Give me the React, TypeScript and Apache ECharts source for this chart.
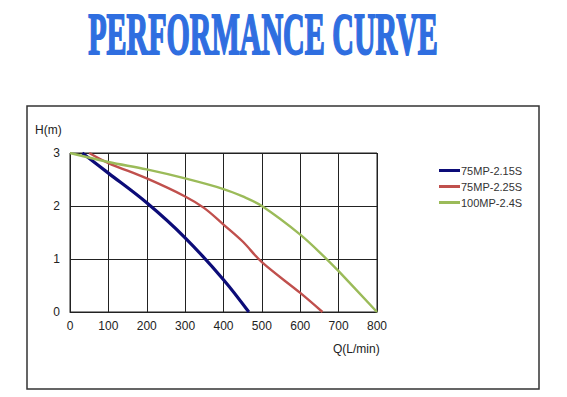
import React, { useEffect, useRef } from "react";
import * as echarts from "echarts";

const seriesNames = ["75MP-2.15S", "75MP-2.25S", "100MP-2.4S"];
const seriesColors = ["#0c0c78", "#c0504d", "#9bbb59"];

const flowA = [32, 100, 200, 300, 400, 466];
const headA = [3, 2.62, 2.06, 1.4, 0.61, 0];

const flowB = [50, 100, 200, 300, 350, 400, 450, 500, 600, 658];
const headB = [3, 2.81, 2.52, 2.18, 1.96, 1.65, 1.33, 0.94, 0.36, 0];

const flowC = [0, 100, 200, 300, 400, 450, 500, 600, 670, 700, 800];
const headC = [3, 2.83, 2.69, 2.52, 2.32, 2.18, 2.0, 1.46, 0.99, 0.77, 0];

const xTicks = [0, 800, 100];
const yTicks = [0, 3, 1];

const pair = (xs: number[], ys: number[]) => xs.map((x, i) => [x, ys[i]]);

export default function App() {
  const ref = useRef<HTMLDivElement>(null);
  useEffect(() => {
    if (!ref.current) return;
    const chart = echarts.init(ref.current, undefined, { renderer: "svg" });
    const data = [pair(flowA, headA), pair(flowB, headB), pair(flowC, headC)];
    chart.setOption({
      animation: false,
      backgroundColor: "#ffffff",
      textStyle: { fontFamily: "Liberation Sans" },
      graphic: [
        {
          type: "text",
          x: 263,
          y: 4,
          scaleX: 0.5,
          style: {
            text: "PERFORMANCE CURVE",
            font: "bold 60px 'Liberation Serif'",
            fill: "#2f6ee0",
            stroke: "#2f6ee0",
            lineWidth: 2,
            textAlign: "center",
            textVerticalAlign: "top",
          },
        },
        {
          type: "rect",
          shape: { x: 27, y: 106, width: 512, height: 283 },
          style: { fill: "none", stroke: "#333", lineWidth: 1.5 },
          silent: true,
        },
        {
          type: "text",
          x: 35,
          y: 124,
          style: { text: "H(m)", font: "12px 'Liberation Sans'", fill: "#222" },
        },
        {
          type: "text",
          x: 333,
          y: 343,
          style: { text: "Q(L/min)", font: "12px 'Liberation Sans'", fill: "#222" },
        },
      ],
      legend: {
        orient: "vertical",
        left: 434,
        top: 160,
        itemGap: 5,
        itemWidth: 21,
        itemHeight: 3,
        textStyle: { fontSize: 11, color: "#333", fontFamily: "Liberation Sans", padding: [0, 0, 0, -4] },
        data: seriesNames.map((n) => ({ name: n, icon: "rect" })),
      },
      grid: {
        left: 70,
        top: 153,
        width: 307,
        height: 159,
        show: true,
        borderColor: "#222",
        borderWidth: 1,
      },
      xAxis: {
        type: "value",
        min: xTicks[0],
        max: xTicks[1],
        interval: xTicks[2],
        axisLine: { show: true, lineStyle: { color: "#222" } },
        axisTick: { show: false },
        axisLabel: { color: "#222", fontSize: 12, margin: 8 },
        splitLine: { show: true, lineStyle: { color: "#222", width: 1 } },
      },
      yAxis: {
        type: "value",
        min: yTicks[0],
        max: yTicks[1],
        interval: yTicks[2],
        axisLine: { show: true, lineStyle: { color: "#222" } },
        axisTick: { show: false },
        axisLabel: { color: "#222", fontSize: 12, margin: 10 },
        splitLine: { show: true, lineStyle: { color: "#222", width: 1 } },
      },
      series: seriesNames.map((n, i) => ({
        name: n,
        type: "line",
        data: data[i],
        smooth: 0.35,
        symbol: "none",
        color: seriesColors[i],
        lineStyle: { width: i === 0 ? 3.2 : 2.4, color: seriesColors[i] },
        itemStyle: { color: seriesColors[i] },
      })),
    });
    return () => chart.dispose();
  }, []);
  return <div ref={ref} style={{ width: 567, height: 397, position: "absolute", left: 0, top: 0 }} />;
}
